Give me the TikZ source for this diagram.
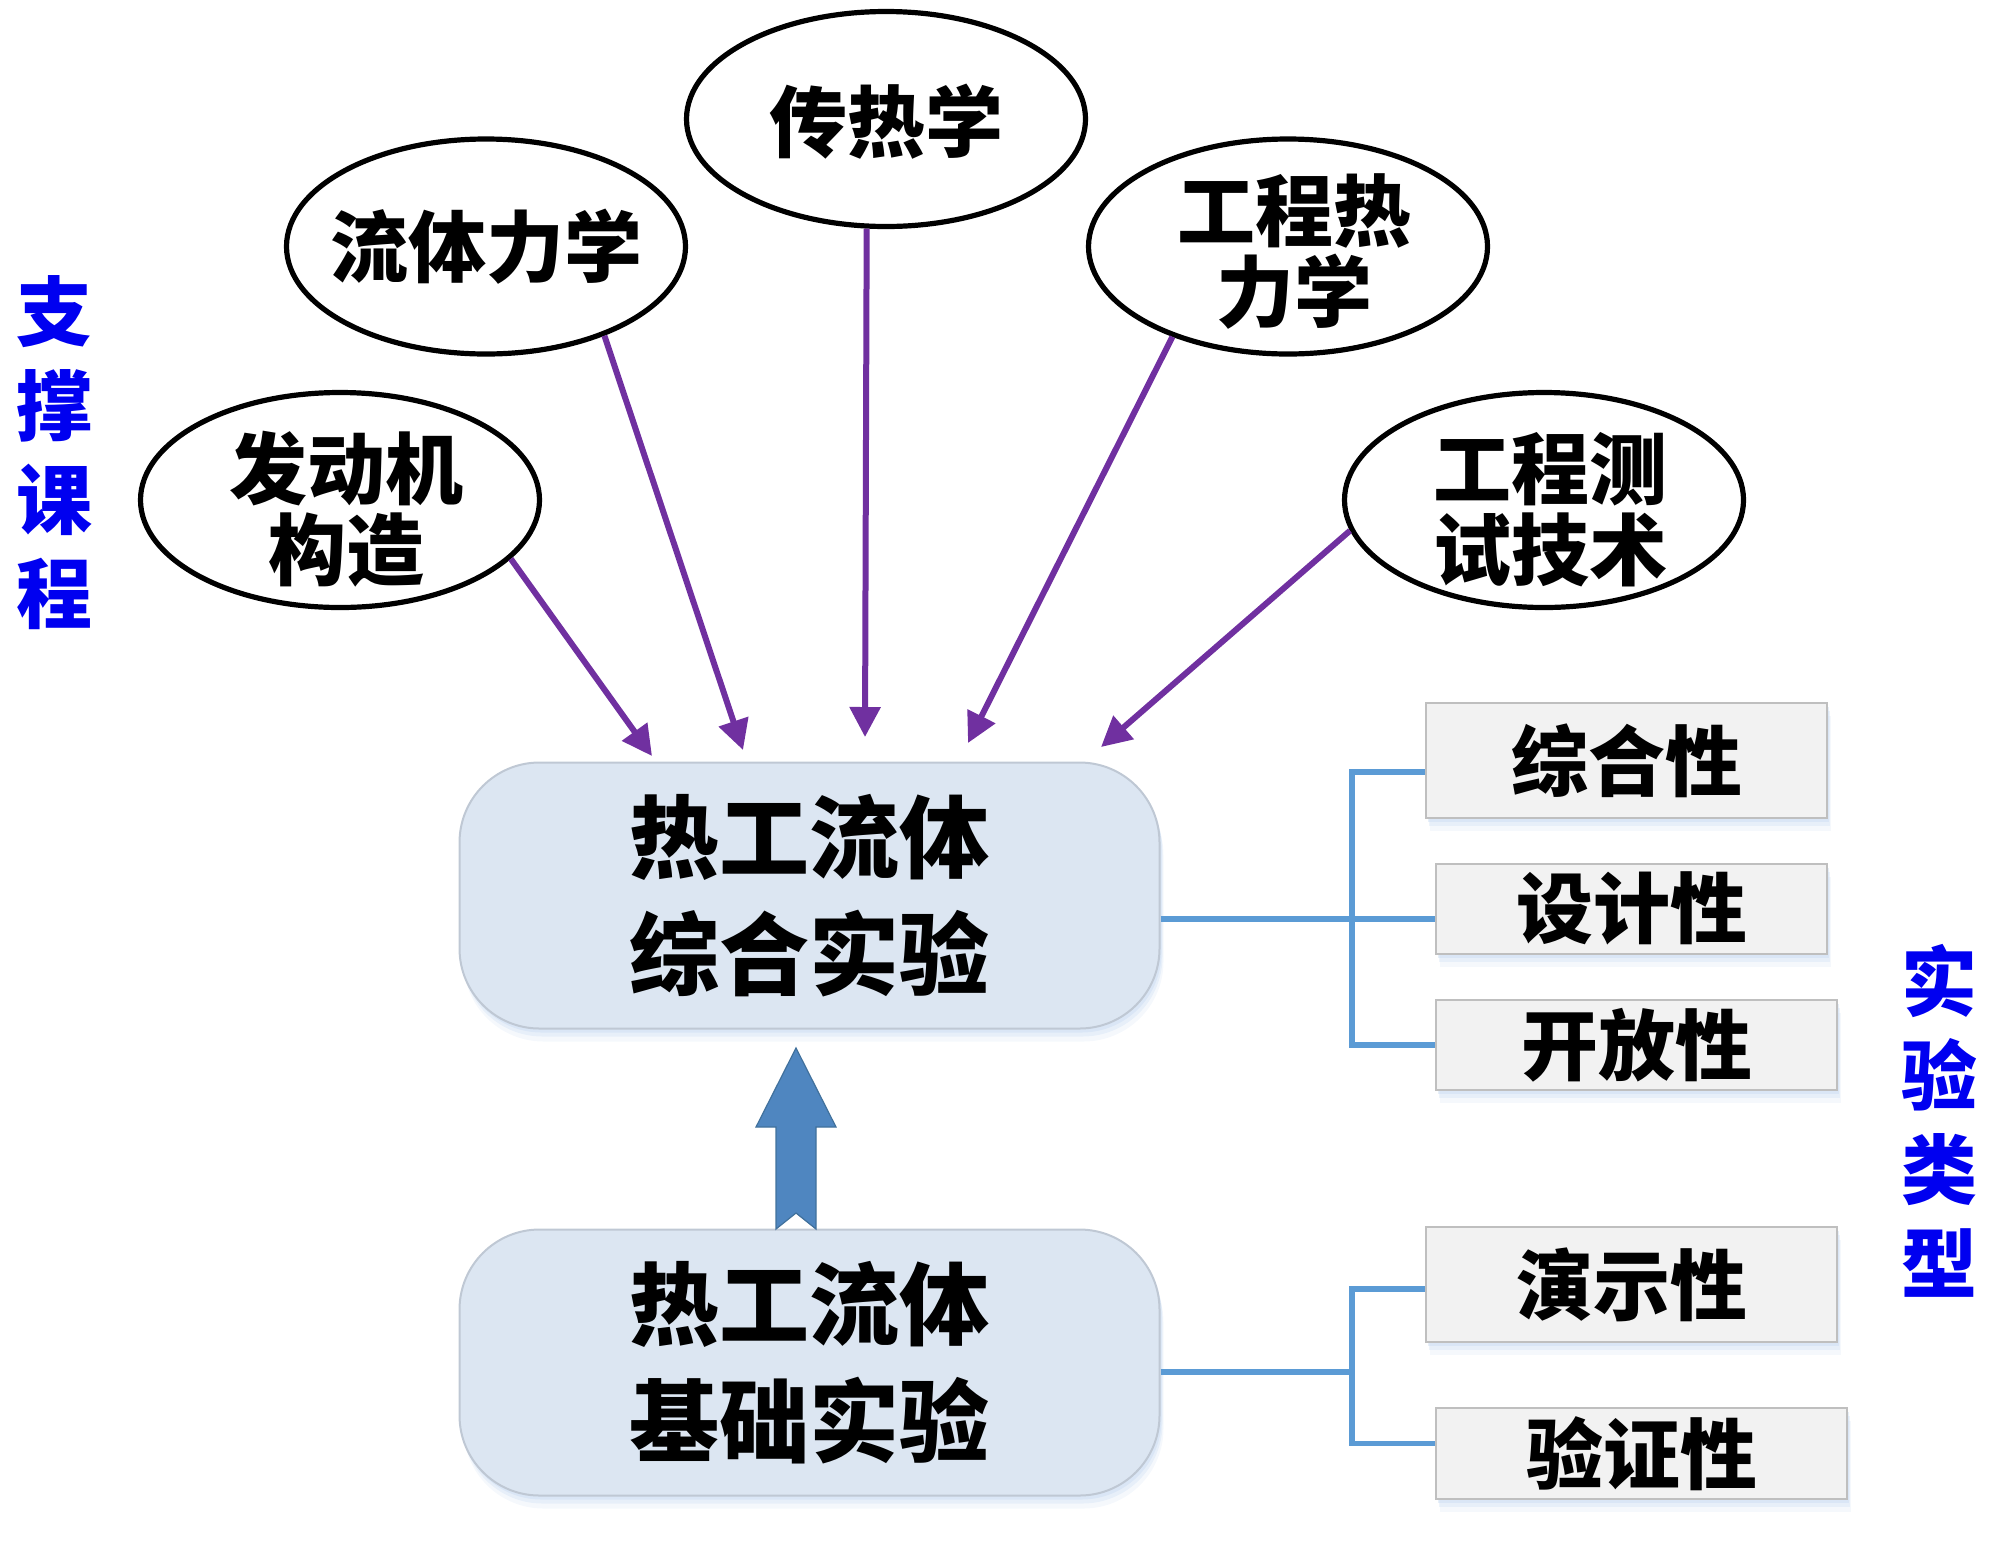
\documentclass[tikz,border=0pt]{standalone}
\usepackage{fontspec}
\setmainfont{Noto Sans CJK SC}
\usetikzlibrary{shapes.geometric,arrows.meta,shadows}
\definecolor{arrowpurple}{HTML}{7030A0}
\definecolor{boxblue}{HTML}{DCE6F2}
\definecolor{boxedge}{HTML}{BFC8D4}
\definecolor{graybox}{HTML}{F2F2F2}
\definecolor{grayedge}{HTML}{BFBFBF}
\definecolor{linkblue}{HTML}{5B9BD5}
\definecolor{bigarrow}{HTML}{4F86C0}
\definecolor{bigarrowedge}{HTML}{41719C}
\definecolor{shadowblue}{HTML}{C6D9F1}
\definecolor{labelblue}{HTML}{0000F0}
\begin{document}
\begin{tikzpicture}[x=0.5pt,y=-0.5pt,
  softshadow/.style={
    drop shadow={shadow xshift=1pt, shadow yshift=-2pt, fill=shadowblue, opacity=0.4},
    drop shadow={shadow xshift=1.5pt, shadow yshift=-4pt, fill=shadowblue, opacity=0.3},
    drop shadow={shadow xshift=2pt, shadow yshift=-6.5pt, fill=shadowblue, opacity=0.18}},
  course/.style={ellipse, draw=black, line width=2.6pt, fill=white, inner sep=0pt,
    minimum width=199.5pt, minimum height=107.5pt},
  ctext/.style={align=center, inner sep=0pt, font=\bfseries\fontsize{39}{40.5}\selectfont},
  mainbox/.style={rectangle, rounded corners=40pt, draw=boxedge, line width=1pt,
    fill=boxblue, minimum width=350pt, minimum height=133pt, align=center,
    font=\bfseries\fontsize{45}{58.5}\selectfont, softshadow},
  typebox/.style={rectangle, draw=grayedge, line width=1pt, fill=graybox,
    inner sep=0pt, font=\bfseries\fontsize{38.5}{40}\selectfont, softshadow},
  link/.style={draw=linkblue, line width=2.9pt},
  feed/.style={draw=arrowpurple, line width=3pt, -{Triangle[length=15pt,width=15pt]}},
  vlabel/.style={text=labelblue, align=center, font=\bfseries\fontsize{38}{47}\selectfont}
]
\useasboundingbox (0,0) rectangle (2000,1543);

% course ellipses
\node[course, label={[ctext, xshift=3pt, yshift=-4.5pt]center:发动机\\构造}] (e1) at (340,500) {};
\node[course, label={[ctext]center:流体力学}] (e2) at (486,246.5) {};
\node[course, label={[ctext, yshift=-1.5pt]center:传热学}] (e3) at (886,119) {};
\node[course, label={[ctext, xshift=3pt, yshift=-2.5pt]center:工程热\\力学}] (e4) at (1288,246.5) {};
\node[course, label={[ctext, xshift=3pt, yshift=-5pt]center:工程测\\试技术}] (e5) at (1544,500) {};

% main boxes
\node[mainbox] (b1) at (809.5,895.5) {热工流体\\综合实验};
\node[mainbox] (b2) at (809.5,1362.5) {热工流体\\基础实验};

% experiment type boxes
\node[typebox, minimum width=200.5pt, minimum height=57.5pt] (r1) at (1626.5,760.5) {综合性};
\node[typebox, minimum width=195.5pt, minimum height=45.25pt] (r2) at (1631.5,908.75) {设计性};
\node[typebox, minimum width=200.5pt, minimum height=45pt] (r3) at (1636.5,1045) {开放性};
\node[typebox, minimum width=205.5pt, minimum height=57.5pt] (r4) at (1631.5,1284.5) {演示性};
\node[typebox, minimum width=205.5pt, minimum height=45.5pt] (r5) at (1641.5,1453.5) {验证性};

% side labels
\node[vlabel] (lsup) at (55,453) {支\\撑\\课\\程};
\node[vlabel] (ltype) at (1939,1121) {实\\验\\类\\型};

% arrow tips
\coordinate (t1) at (652,756);
\coordinate (t2) at (743,750);
\coordinate (t3) at (865,737);
\coordinate (t4) at (968,743);
\coordinate (t5) at (1101,747);
\draw[feed] (e1.-19.3) -- (t1);
\draw[feed] (e2.-37.2) -- (t2);
\draw[feed] (e3.-100.9) -- (t3);
\draw[feed] (e4.-142.65) -- (t4);
\draw[feed] (e5.-171.1) -- (t5);

% connectors top group
\coordinate (j1) at (1352,919);
\coordinate (j1a) at (1352,772);
\coordinate (j1b) at (1352,1045);
\draw[link] (b1.east |- j1) -- (r2.west |- j1);
\draw[link] (r1.west |- j1a) -- (j1a) -- (j1b) -- (r3.west |- j1b);

% connectors bottom group
\coordinate (j2) at (1352,1372);
\coordinate (j2a) at (1352,1289);
\coordinate (j2b) at (1352,1443.5);
\draw[link] (b2.east |- j2) -- (j2);
\draw[link] (r4.west |- j2a) -- (j2a) -- (j2b) -- (r5.west |- j2b);

% big upward arrow
\filldraw[fill=bigarrow, draw=bigarrowedge, line width=0.6pt]
  (776,1229) -- (776,1127) -- (756,1127) -- (796,1048) -- (836,1127)
  -- (816,1127) -- (816,1229) -- (796,1213) -- cycle;
\end{tikzpicture}
\end{document}
